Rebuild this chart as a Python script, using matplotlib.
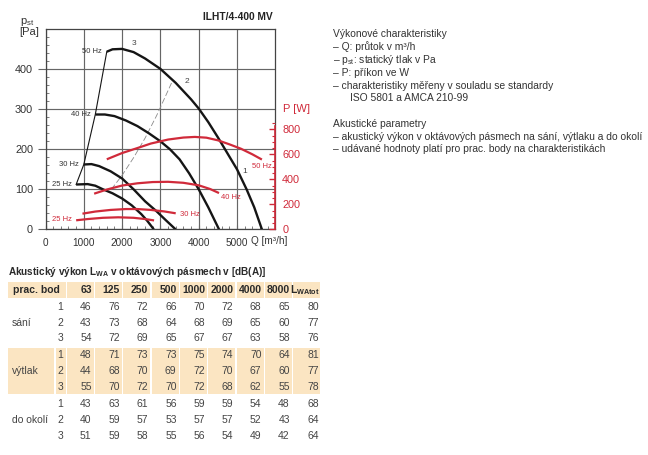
import matplotlib
matplotlib.use('Agg')
import matplotlib.pyplot as plt
from matplotlib.ticker import MultipleLocator, FixedLocator
from matplotlib.patches import Rectangle

plt.rcParams['font.family'] = ['Liberation Sans', 'DejaVu Sans']
plt.rcParams['mathtext.fontset'] = 'custom'
plt.rcParams['mathtext.rm'] = 'Liberation Sans'
plt.rcParams['mathtext.it'] = 'Liberation Sans:italic'
plt.rcParams['mathtext.bf'] = 'Liberation Sans:bold'

# ---------------- data: pressure curves (Q m3/h, p Pa) ----------------
q_50 = [1600, 1750, 2000, 2300, 2600, 3000, 3400, 3800, 4000, 4250, 4500, 4750, 5000, 5250, 5450, 5650]
p_50 = [444, 450, 451, 443, 427, 401, 366, 325, 302, 268, 230, 190, 150, 100, 55, 0]
q_40 = [1300, 1550, 1800, 2100, 2400, 2700, 3000, 3250, 3500, 3750, 4000, 4250, 4530]
p_40 = [287, 287, 283, 272, 258, 240, 220, 200, 175, 140, 100, 55, 0]
q_30 = [1000, 1200, 1400, 1700, 2000, 2300, 2600, 2900, 3150, 3395]
p_30 = [162, 163, 158, 145, 127, 100, 70, 45, 22, 0]
q_25 = [800, 1100, 1300, 1500, 1750, 2000, 2250, 2500, 2650, 2827]
p_25 = [112, 113, 109, 100, 90, 77, 60, 38, 22, 0]
q_limit = [800, 1000, 1300, 1600]
p_limit = [112, 162, 287, 444]
q_sys2 = [1720, 2000, 2300, 2600, 2900, 3320]
p_sys2 = [100, 135, 179, 228, 284, 372]

# ---------------- data: power curves (Q m3/h, P W) ----------------
qP_50 = [1600, 2000, 2400, 2750, 3200, 3600, 3900, 4200, 4500, 4800, 5100, 5400, 5650]
P_50 = [560, 610, 650, 686, 718, 734, 739, 733, 712, 680, 645, 600, 558]
qP_40 = [1270, 1600, 2000, 2400, 2800, 3200, 3600, 4000, 4300, 4530]
P_40 = [285, 318, 350, 368, 378, 380, 372, 352, 322, 290]
qP_30 = [965, 1300, 1700, 2100, 2400, 2750, 3100, 3400]
P_30 = [125, 142, 155, 162, 162, 155, 143, 128]
qP_25 = [800, 1100, 1500, 1900, 2300, 2600, 2835]
P_25 = [72, 82, 92, 96, 92, 82, 71]

freq_labels = ['50 Hz', '40 Hz', '30 Hz', '25 Hz']
x_ticks = [0, 1000, 2000, 3000, 4000, 5000]
y_ticks = [0, 100, 200, 300, 400]
p_ticks = [0, 200, 400, 600, 800]

# ---------------- data: acoustic table ----------------
bands = ['63', '125', '250', '500', '1000', '2000', '4000', '8000']
groups = ['sání', 'výtlak', 'do okolí']
sani = [[46, 76, 72, 66, 70, 72, 68, 65, 80],
        [43, 73, 68, 64, 68, 69, 65, 60, 77],
        [54, 72, 69, 65, 67, 67, 63, 58, 76]]
vytlak = [[48, 71, 73, 73, 75, 74, 70, 64, 81],
          [44, 68, 70, 69, 72, 70, 67, 60, 77],
          [55, 70, 72, 70, 72, 68, 62, 55, 78]]
okoli = [[43, 63, 61, 56, 59, 59, 54, 48, 68],
         [40, 59, 57, 53, 57, 57, 52, 43, 64],
         [51, 59, 58, 55, 56, 54, 49, 42, 64]]

notes = ['Výkonové charakteristiky',
         '– Q: průtok v m³/h',
         '– p$_{\\rm st}$: statický tlak v Pa',
         '– P: příkon ve W',
         '– charakteristiky měřeny v souladu se standardy',
         'ISO 5801 a AMCA 210-99',
         'Akustické parametry',
         '– akustický výkon v oktávových pásmech na sání, výtlaku a do okolí',
         '– udávané hodnoty platí pro prac. body na charakteristikách']

RED = '#d02a3a'
BLK = '#151515'
GRID = '#666666'
TXT = '#333333'

W, H = 648, 455
fig = plt.figure(figsize=(6.48, 4.55), dpi=100)

# full-figure pixel axes for table and notes
axT = fig.add_axes([0, 0, 1, 1])
axT.set_xlim(0, W)
axT.set_ylim(H, 0)
axT.axis('off')

def fx(x):
    return x / W

def fy(y):
    return 1 - y / H

# ---------------- chart ----------------
ax = fig.add_axes([fx(45.5), fy(229.3), 229.8 / W, 200 / H])
ax.set_xlim(0, 6000)
ax.set_ylim(0, 500)
ax.set_xticks(x_ticks)
ax.set_yticks(y_ticks)
ax.xaxis.set_minor_locator(MultipleLocator(200))
ax.yaxis.set_minor_locator(MultipleLocator(20))
ax.grid(True, which='major', color=GRID, lw=0.85)
ax.set_axisbelow(True)
for s in ax.spines.values():
    s.set_color('#444')
    s.set_linewidth(0.9)
ax.tick_params(axis='y', which='major', direction='out', length=6, width=0.8,
               color=GRID, labelsize=7.8, labelcolor=TXT, pad=3)
ax.tick_params(axis='y', which='minor', direction='in', length=2, width=0.6, color=GRID)
ax.tick_params(axis='x', which='major', direction='in', length=3, width=0.8,
               color=GRID, labelsize=7.2, labelcolor=TXT, pad=6)
ax.tick_params(axis='x', which='minor', direction='in', length=2, width=0.6, color=GRID)

for q, p in [(q_50, p_50), (q_40, p_40), (q_30, p_30), (q_25, p_25)]:
    ax.plot(q, p, color=BLK, lw=1.7, solid_capstyle='butt', zorder=4)
ax.plot(q_limit, p_limit, color=BLK, lw=0.8, zorder=4)
ax.plot(q_sys2, p_sys2, color='#8a8a8a', lw=0.6, dashes=(7, 3), zorder=3)

for lab, q, p in zip(freq_labels, [q_50, q_40, q_30, q_25], [p_50, p_40, p_30, p_25]):
    ax.text(q[0] - 120, p[0], lab, ha='right', va='center', fontsize=5.5, color=TXT)
ax.text(2304, 465, '3', ha='center', va='center', fontsize=6, color='#444')
ax.text(3700, 369, '2', ha='center', va='center', fontsize=6, color='#444')
ax.text(5209, 144, '1', ha='center', va='center', fontsize=6, color='#444')

ax2 = ax.twinx()
ax2.set_ylim(0, 1600)
ax2.set_yticks(p_ticks)
ax2.yaxis.set_minor_locator(FixedLocator(list(range(0, 851, 50))))
for k in ['left', 'top', 'bottom']:
    ax2.spines[k].set_visible(False)
ax2.spines['right'].set_color(RED)
ax2.spines['right'].set_linewidth(1.2)
ax2.spines['right'].set_bounds(0, 830)
ax2.tick_params(axis='y', which='major', direction='in', length=4, width=1.0,
                color=RED, labelcolor=RED, labelsize=7.8, pad=5)
ax2.tick_params(axis='y', which='minor', direction='in', length=2, width=0.8, color=RED)

for q, P in [(qP_50, P_50), (qP_40, P_40), (qP_30, P_30), (qP_25, P_25)]:
    ax2.plot(q, P, color=RED, lw=1.6, solid_capstyle='butt', zorder=5)
ax2.text(5660, 500, freq_labels[0], ha='center', va='center', fontsize=5.5, color=RED)
ax2.text(4850, 258, freq_labels[1], ha='center', va='center', fontsize=5.5, color=RED)
ax2.text(3780, 121, freq_labels[2], ha='center', va='center', fontsize=5.5, color=RED)
ax2.text(430, 80, freq_labels[3], ha='center', va='center', fontsize=5.5, color=RED)

fig.text(fx(273), fy(16.7), 'ILHT/4-400 MV', ha='right', va='center',
         fontsize=7.4, fontweight='bold', color='#222')
fig.text(fx(20), fy(24.5), 'p$_{\\rm st}$', ha='left', va='baseline', fontsize=8, color=TXT)
fig.text(fx(19), fy(35), '[Pa]', ha='left', va='baseline', fontsize=8, color=TXT)
fig.text(fx(251), fy(241.5), 'Q [m³/h]', ha='left', va='center', fontsize=7.2, color=TXT)
fig.text(fx(283), fy(109), 'P [W]', ha='left', va='center', fontsize=8, color=RED)

# ---------------- notes ----------------
note_y = [34.3, 46.7, 60.0, 72.7, 85.7, 98.3, 124.0, 136.7, 149.3]
for i, (t, y) in enumerate(zip(notes, note_y)):
    x = 350 if i == 5 else 333
    axT.text(x, y, t, ha='left', va='center', fontsize=7.35, color=TXT)

# ---------------- table ----------------
BAND = '#fbe5c2'
axT.text(8.3, 271.7, 'Akustický výkon L$_{\\mathbf{WA}}$ v oktávových pásmech v [dB(A)]',
         ha='left', va='center', fontsize=7.2, fontweight='bold', color='#2a2a2a')
bounds = [66.7 + 28.3 * i for i in range(10)]
hdr_top, hdr_bot = 281.7, 297.7
gap = 1.2
axT.add_patch(Rectangle((8.3, hdr_top), bounds[0] - 8.3 - gap, hdr_bot - hdr_top,
                        facecolor=BAND, edgecolor='none'))
for i in range(9):
    axT.add_patch(Rectangle((bounds[i], hdr_top), bounds[i + 1] - bounds[i] - gap,
                            hdr_bot - hdr_top, facecolor=BAND, edgecolor='none'))
hy = (hdr_top + hdr_bot) / 2
axT.text(13, hy, 'prac. bod', ha='left', va='center', fontsize=7.5,
         fontweight='bold', color='#2a2a2a')
for i, b in enumerate(bands):
    axT.text(bounds[i + 1] - 3.3, hy, b, ha='right', va='center', fontsize=7.5,
             fontweight='bold', color='#2a2a2a')
axT.text(bounds[9] - 2, hy, 'L$_{\\mathbf{WAtot}}$', ha='right', va='center', fontsize=7.5,
         fontweight='bold', color='#2a2a2a')

row_y = [306.7, 322.7, 338.3, 355.0, 370.7, 386.7, 404.0, 420.0, 435.7]
# band behind výtlak rows
b_top, b_bot = 347.7, 394.3
axT.add_patch(Rectangle((8.3, b_top), 54 - 8.3, b_bot - b_top, facecolor=BAND, edgecolor='none'))
axT.add_patch(Rectangle((55.5, b_top), bounds[0] - 55.5 - gap, b_bot - b_top,
                        facecolor=BAND, edgecolor='none'))
for i in range(9):
    axT.add_patch(Rectangle((bounds[i], b_top), bounds[i + 1] - bounds[i] - gap,
                            b_bot - b_top, facecolor=BAND, edgecolor='none'))

for g, (gname, rows) in enumerate(zip(groups, [sani, vytlak, okoli])):
    axT.text(11.7, row_y[3 * g + 1], gname, ha='left', va='center', fontsize=7.5, color='#444')
    for r, vals in enumerate(rows):
        y = row_y[3 * g + r]
        axT.text(63.3, y, str(r + 1), ha='right', va='center', fontsize=7.5, color='#444')
        for i, v in enumerate(vals):
            xr = bounds[i + 1] - (3.3 if i < 8 else 2)
            axT.text(xr, y, str(v), ha='right', va='center', fontsize=7.5, color='#444')

fig.savefig('out.png', dpi=100)
